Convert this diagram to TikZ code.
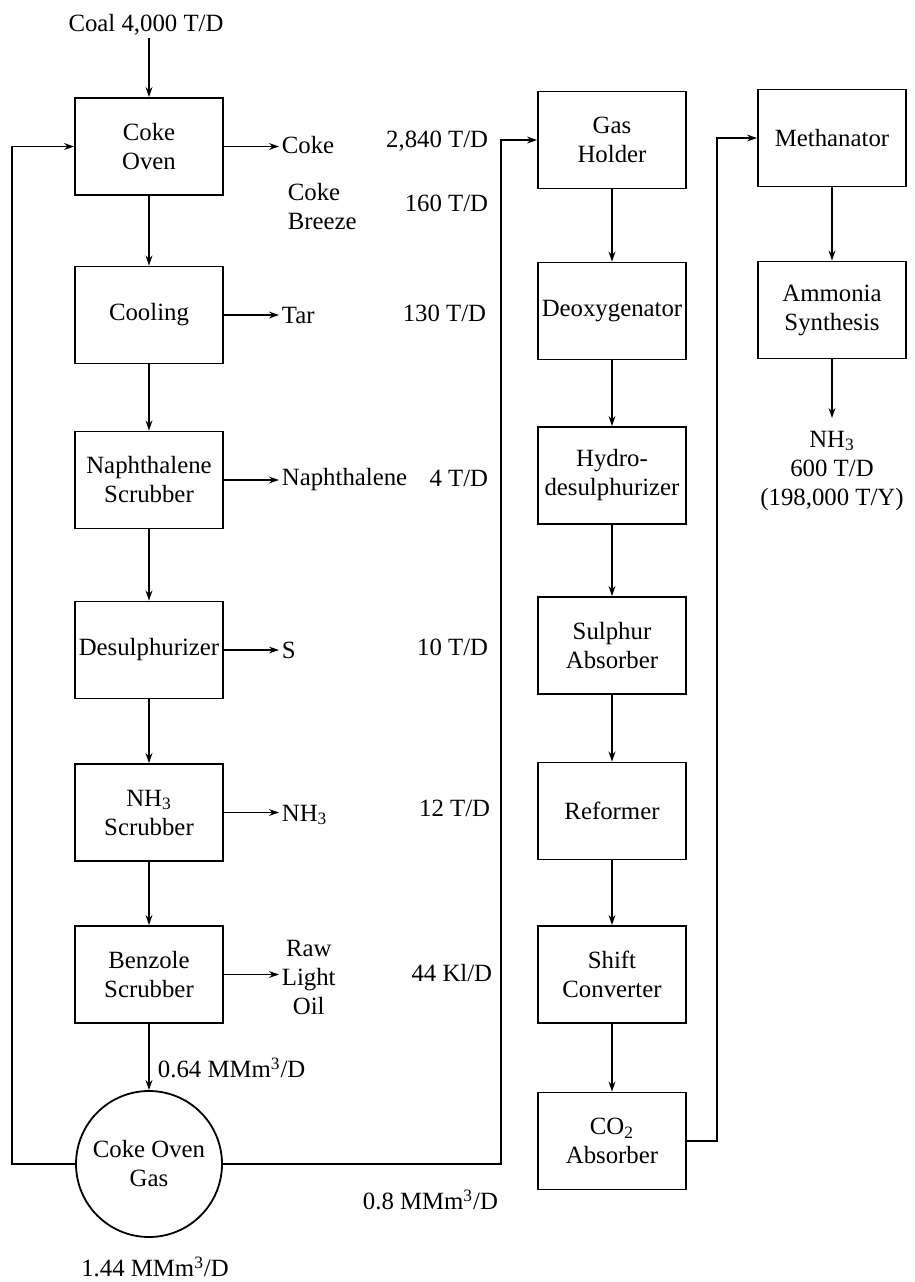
\documentclass[tikz,border=0pt]{standalone}
\usepackage{fontspec}
\setmainfont{Liberation Serif}
\usetikzlibrary{arrows.meta,calc}
\begin{document}
\begin{tikzpicture}[x=0.5pt,y=-0.5pt,
  font=\fontsize{12.4}{14.5}\selectfont,
  line width=0.9pt,
  box/.style={draw,rectangle,minimum width=74pt,minimum height=48.5pt,inner sep=0pt,align=center},
  gasball/.style={draw,circle,minimum size=73pt,inner sep=0pt,align=center},
  arr/.style={-{Stealth[length=5pt,width=3.4pt]}},
  lbl/.style={inner sep=1pt,anchor=west,align=left},
  val/.style={inner sep=0pt,anchor=east}]
\useasboundingbox (0,0) rectangle (915,1282);

% left column
\node[inner sep=1pt] (coal) at (146,25) {Coal 4,000 T/D};
\node[box] (coke) at (149,146.5) {Coke\\Oven};
\node[box] (cool) at (149,315) {Cooling};
\node[box] (naph) at (149,480) {Naphthalene\\Scrubber};
\node[box] (desul) at (149,650) {Desulphurizer};
\node[box] (nhs) at (149,812.5) {NH\textsubscript{3}\\Scrubber};
\node[box] (benz) at (149,974.5) {Benzole\\Scrubber};
\node[gasball] (cog) at (149,1164) {Coke Oven\\Gas};

% middle column
\node[box] (gas) at (612,140) {Gas\\Holder};
\node[box] (deox) at (612,311) {Deoxygenator};
\node[box] (hyd) at (612,475.5) {Hydro-\\desulphurizer};
\node[box] (sulf) at (612,645.5) {Sulphur\\Absorber};
\node[box] (ref) at (612,811) {Reformer};
\node[box] (shift) at (612,974.5) {Shift\\Converter};
\node[box] (co2) at (612,1141) {CO\textsubscript{2}\\Absorber};

% right column
\node[box] (meth) at (832,138) {Methanator};
\node[box] (amm) at (832,310) {Ammonia\\Synthesis};
\node[align=center,inner sep=0pt,anchor=north] (out) at (832,430) {NH\textsubscript{3}\\600 T/D\\(198,000 T/Y)};
\coordinate (outtop) at (832,418);

% side products
\node[lbl] (cokeT) at (279,145) {Coke};
\node[lbl] (breeze) at (285,207) {Coke\\Breeze};
\node[lbl] (tarT) at (279,315) {Tar};
\node[lbl] (naphT) at (279,480) {Naphthalene};
\node[lbl] (sT) at (279,650) {S};
\node[lbl] (nh3T) at (279,815) {NH\textsubscript{3}};
\node[lbl,align=center] (oilT) at (279,977) {Raw\\Light\\Oil};

% values
\node[val] (v1) at (489,141) {2,840 T/D};
\node[val] (v2) at (489,203) {160 T/D};
\node[val] (v3) at (487,313) {130 T/D};
\node[val] (v4) at (489,478) {4 T/D};
\node[val] (v5) at (489,647) {10 T/D};
\node[val] (v6) at (491,808) {12 T/D};
\node[val] (v7) at (493,973) {44 Kl/D};

% flow labels
\node[lbl] (f064) at (155,1068) {0.64 MMm\textsuperscript{3}/D};
\node[lbl] (f08) at (360,1200) {0.8 MMm\textsuperscript{3}/D};
\node[inner sep=0pt] (f144) at (155,1267) {1.44 MMm\textsuperscript{3}/D};

% vertical flows
\draw[arr] (coke.north |- coal.south) -- (coke.north);
\draw[arr] (coke.south) -- (cool.north);
\draw[arr] (cool.south) -- (naph.north);
\draw[arr] (naph.south) -- (desul.north);
\draw[arr] (desul.south) -- (nhs.north);
\draw[arr] (nhs.south) -- (benz.north);
\draw[arr] (benz.south) -- (cog.north);

\draw[arr] (gas.south) -- (deox.north);
\draw[arr] (deox.south) -- (hyd.north);
\draw[arr] (hyd.south) -- (sulf.north);
\draw[arr] (sulf.south) -- (ref.north);
\draw[arr] (ref.south) -- (shift.north);
\draw[arr] (shift.south) -- (co2.north);

\draw[arr] (meth.south) -- (amm.north);
\draw[arr] (amm.south) -- (amm.south |- outtop);

% side arrows
\draw[arr] (coke.east) -- (coke.east -| cokeT.west);
\draw[arr] (cool.east) -- (cool.east -| tarT.west);
\draw[arr] (naph.east) -- (naph.east -| naphT.west);
\draw[arr] (desul.east) -- (desul.east -| sT.west);
\draw[arr] (nhs.east) -- (nhs.east -| nh3T.west);
\draw[arr] (benz.east) -- (benz.east -| oilT.west);

% recycle and gas lines
\coordinate (fbx) at (12,0);
\coordinate (gx) at (501,0);
\coordinate (mx) at (717,0);
\draw[arr] (cog.west) -| (fbx |- coke.west) -- (coke.west);
\draw[arr] (cog.east) -| (gx |- gas.west) -- (gas.west);
\draw[arr] (co2.east) -| (mx |- meth.west) -- (meth.west);
\end{tikzpicture}
\end{document}
